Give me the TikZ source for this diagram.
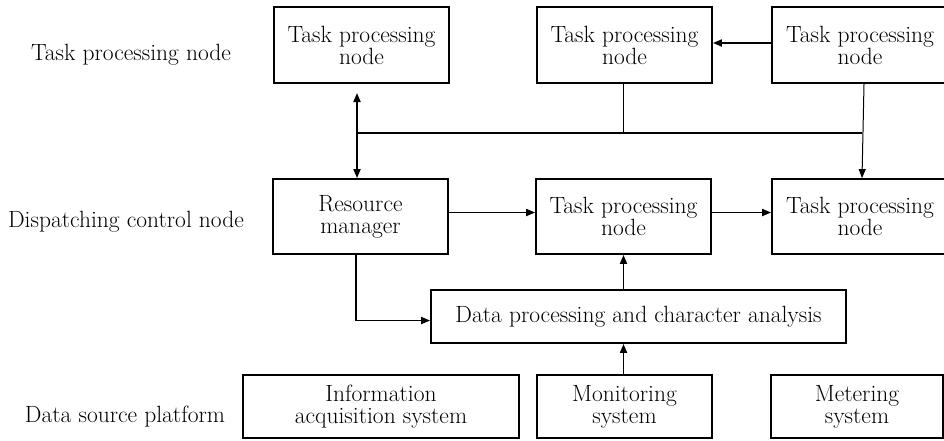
\documentclass[tikz,border=0pt]{standalone}
\usetikzlibrary{arrows.meta}
\begin{document}
\begin{tikzpicture}[x=1pt,y=-1pt,
  box/.style={draw, line width=1.8pt, inner sep=0pt, align=center, font=\fontsize{23.5}{22}\selectfont},
  lbl/.style={inner sep=0pt, anchor=base, font=\fontsize{23.5}{22}\selectfont},
  conn/.style={line width=1.8pt},
  arr/.style={line width=1.8pt, -{Triangle[length=9pt,width=7pt]}},
  darr/.style={line width=1.8pt, {Triangle[length=9pt,width=7pt]}-{Triangle[length=9pt,width=7pt]}},
  thinarr/.style={line width=1pt, -{Triangle[length=9pt,width=7pt]}}]
\useasboundingbox (0,0) rectangle (944,440);
\clip (0,0) rectangle (944,440);
\fill[white] (0,0) rectangle (944,440);

% row labels
\node[lbl] (l1) at (131,60) {Task processing node};
\node[lbl] (l2) at (126,227) {Dispatching control node};
\node[lbl] (l3) at (125,422) {Data source platform};

% top row
\node[box, minimum width=175, minimum height=76] (A) at (361.5,45) {Task processing\\node};
\node[box, minimum width=175, minimum height=76] (B) at (624.5,45) {Task processing\\node};
\node[box, minimum width=176, minimum height=76] (C) at (860,45) {Task processing\\node};

% middle row
\node[box, minimum width=175, minimum height=75] (RM) at (360.5,216.5) {Resource\\manager};
\node[box, minimum width=175, minimum height=75] (M) at (623.5,216.5) {Task processing\\node};
\node[box, minimum width=176, minimum height=75] (R) at (860,216.5) {Task processing\\node};

% data processing
\node[box, minimum width=415, minimum height=53] (DP) at (638.5,316.5) {Data processing and character analysis};

% bottom row
\node[box, minimum width=276, minimum height=63] (IA) at (381,406.5) {Information\\acquisition system};
\node[box, minimum width=175, minimum height=63] (MS) at (624.5,406.5) {Monitoring\\system};
\node[box, minimum width=172, minimum height=63] (ME) at (857,406.5) {Metering\\system};

% bus
\coordinate (busL) at (357,133);
\coordinate (busR) at (862,133);
\coordinate (dtop) at (357,93);
\draw[conn] (busL) -- (busR);
\draw[conn] ([xshift=-1pt]B.south) -- ([xshift=-1pt]B.south |- busL);
\draw[darr] (dtop) -- (dtop |- RM.north);
\draw[thinarr] ([xshift=4pt]C.south) -- ([xshift=2pt]R.north);

% top arrow
\draw[arr] ([yshift=2pt]C.west) -- ([yshift=2pt]B.east);

% middle arrows
\draw[arr] ([yshift=4pt]RM.east) -- ([yshift=4pt]RM.east -| M.west);
\draw[arr] ([yshift=4pt]M.east) -- ([yshift=4pt]M.east -| R.west);
\draw[arr] ([xshift=-4.5pt]RM.south) |- ([yshift=-4pt]DP.west);
\draw[arr] (DP.north -| M.south) -- (M.south);
\draw[arr] ([xshift=-1pt]MS.north) -- ([xshift=-1pt]MS.north |- DP.south);
\end{tikzpicture}
\end{document}
